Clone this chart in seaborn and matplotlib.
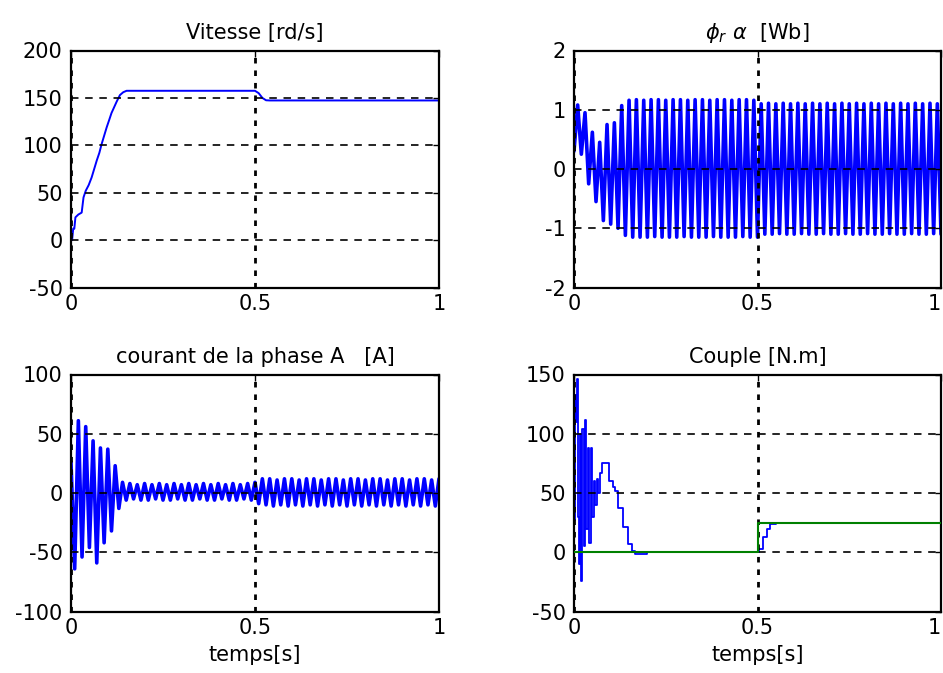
import numpy as np
import pandas as pd
import matplotlib
matplotlib.use("Agg")
import matplotlib.pyplot as plt
import seaborn as sns

# ---------------- data ----------------
# Vitesse [rd/s]
vitesse_t = [0.0, 0.003, 0.006, 0.009, 0.012, 0.02, 0.029, 0.034, 0.04, 0.048,
             0.056, 0.063, 0.07, 0.077, 0.083, 0.09, 0.097, 0.104, 0.11, 0.117,
             0.124, 0.133, 0.142, 0.151, 0.5, 0.51, 0.52, 0.53, 0.54, 1.0]
vitesse_w = [0, 0, 12, 12, 24, 27, 29, 45, 52, 58,
             66, 75, 84, 92, 101, 110, 119, 127, 134, 140,
             146, 153, 156, 157.5, 157.5, 155, 150, 147.5, 147.3, 147.3]

# flux phi_r alpha [Wb] : successive half-period extremes (every 0.01 s)
demi_periode = 0.01
flux_pics = [0.30, 1.08, 0.25, 0.95, -0.25, 0.62, -0.55, 0.45, -0.87, 0.75,
             -0.93, 0.78, -1.00, 1.07, -1.12, 1.16, -1.15, 1.17, -1.15, 1.16,
             -1.15, 1.17, -1.14, 1.17, -1.15, 1.16, -1.15, 1.17, -1.15, 1.17,
             -1.14, 1.16, -1.15, 1.17, -1.15, 1.17, -1.15, 1.16, -1.14, 1.17,
             -1.15, 1.17, -1.15, 1.16, -1.15, 1.17, -1.14, 1.17, -1.15, 1.16,
             -1.15, 1.10, -1.10, 1.11, -1.10, 1.10, -1.09, 1.11, -1.10, 1.10,
             -1.10, 1.11, -1.09, 1.10, -1.10, 1.11, -1.10, 1.10, -1.09, 1.11,
             -1.10, 1.10, -1.10, 1.11, -1.09, 1.10, -1.10, 1.11, -1.10, 1.10,
             -1.09, 1.11, -1.10, 1.10, -1.10, 1.11, -1.09, 1.10, -1.10, 1.11,
             -1.10, 1.10, -1.09, 1.11, -1.10, 1.10, -1.10, 1.11, -1.09, 1.10,
             -1.10]

# courant de la phase A [A] : successive half-period extremes
courant_pics = [26, -64, 61, -54, 56, -46, 44, -59, 38, -42,
                37, -32, 23, -13, 9, -6, 8, -5, 7, -6,
                8, -6, 7, -5, 8, -6, 7, -6, 8, -5,
                7, -6, 8, -6, 7, -5, 8, -6, 7, -6,
                8, -5, 7, -6, 8, -6, 7, -5, 8, -6,
                9, -9, 12, -10, 12, -11, 11, -10, 12, -11,
                12, -10, 11, -11, 12, -10, 12, -11, 11, -10,
                12, -11, 12, -10, 11, -11, 12, -10, 12, -11,
                11, -10, 12, -11, 12, -10, 11, -11, 12, -10,
                12, -11, 11, -10, 12, -11, 12, -10, 11, -11,
                12]

# Couple electromagnetique [N.m]
couple_t = [0.0, 0.001, 0.003, 0.006, 0.008, 0.011, 0.014, 0.016, 0.019, 0.022,
            0.026, 0.030, 0.034, 0.038, 0.042, 0.046, 0.050, 0.054, 0.058, 0.062,
            0.066, 0.070, 0.076, 0.088, 0.095, 0.105, 0.112, 0.120, 0.134, 0.148,
            0.157, 0.165, 0.180, 0.200, 0.500, 0.505, 0.515, 0.525, 0.535, 0.550,
            1.0]
couple_v = [0, 27, 133, 110, 146, 30, -10, 100, -24, 104,
            5, 112, 20, 88, 8, 88, 30, 60, 40, 62,
            50, 67, 75, 75, 60, 55, 52, 37, 21, 7,
            1, -1.5, -1.5, 0, 0, 3, 13, 20, 24, 25,
            25]

# Couple de charge [N.m]
charge_t = [0.0, 0.5, 0.5, 1.0]
charge_v = [0, 0, 25, 25]

xticks = [0, 0.5, 1]
xtick_labels = ["0", "0.5", "1"]

# ---------------- style ----------------
sns.set_style("white")
plt.rcParams['font.family'] = ['DejaVu Sans']
plt.rcParams['mathtext.fontset'] = 'dejavusans'
plt.rcParams['text.color'] = 'black'

FS = 15
fig = plt.figure(figsize=(9.43, 6.73), dpi=100)
W, H = 943, 673

def make_ax(x0, x1, y0, y1):
    return fig.add_axes([x0 / W, 1 - y1 / H, (x1 - x0) / W, (y1 - y0) / H])

ax_v = make_ax(71, 439, 50.5, 287.5)
ax_f = make_ax(574, 941, 50.5, 287.5)
ax_i = make_ax(71, 439, 374.5, 611.5)
ax_c = make_ax(574, 941, 374.5, 611.5)

BLUE = '#0000ff'
GREEN = '#008000'

t_flux = np.arange(len(flux_pics)) * demi_periode
t_cour = np.arange(len(courant_pics)) * demi_periode

sns.lineplot(x=vitesse_t, y=vitesse_w, ax=ax_v, color=BLUE, lw=1.4,
             estimator=None, sort=False)
sns.lineplot(x=t_flux, y=flux_pics, ax=ax_f, color=BLUE, lw=2.6,
             estimator=None, sort=False)
sns.lineplot(x=t_cour, y=courant_pics, ax=ax_i, color=BLUE, lw=2.6,
             estimator=None, sort=False)
sns.lineplot(x=couple_t, y=couple_v, ax=ax_c, color=BLUE, lw=1.3,
             estimator=None, sort=False, drawstyle='steps-post')
sns.lineplot(x=charge_t, y=charge_v, ax=ax_c, color=GREEN, lw=1.5,
             estimator=None, sort=False, zorder=3)

cfg = [
    (ax_v, (-50, 200), [-50, 0, 50, 100, 150, 200], "Vitesse [rd/s]", False, False),
    (ax_f, (-2, 2), [-2, -1, 0, 1, 2], r"$\phi_r\ \alpha$  [Wb]", False, True),
    (ax_i, (-100, 100), [-100, -50, 0, 50, 100], "courant de la phase A   [A]", True, False),
    (ax_c, (-50, 150), [-50, 0, 50, 100, 150], "Couple [N.m]", True, True),
]

for ax, ylim, yt, title, bottom, right_col in cfg:
    ax.set_xlim(0, 1)
    ax.set_ylim(*ylim)
    ax.set_xticks(xticks)
    ax.set_xticklabels(xtick_labels)
    ax.set_yticks(yt)
    ax.set_yticklabels([str(v) for v in yt])
    ax.tick_params(direction='in', length=4, width=1, labelsize=FS,
                   top=True, right=True, pad=6, colors='black')
    ax.tick_params(axis='x', pad=5)
    if right_col:
        lab = ax.get_xticklabels()[-1]
        lab.set_horizontalalignment('right')
    ax.set_axisbelow(False)
    ax.yaxis.grid(True, color='black', linestyle=(0, (4.5, 4)), lw=1.2)
    ax.xaxis.grid(True, color='black', linestyle=(0, (2, 2.5)), lw=2.0)
    for s in ax.spines.values():
        s.set_color('black')
        s.set_linewidth(1.6)
        s.set_visible(True)
    ax.set_title(title, fontsize=FS, pad=8, color='black')
    ax.set_xlabel("temps[s]" if bottom else "", fontsize=FS, labelpad=5, color='black')
    ax.set_ylabel("")

fig.savefig("out.png", dpi=100)
